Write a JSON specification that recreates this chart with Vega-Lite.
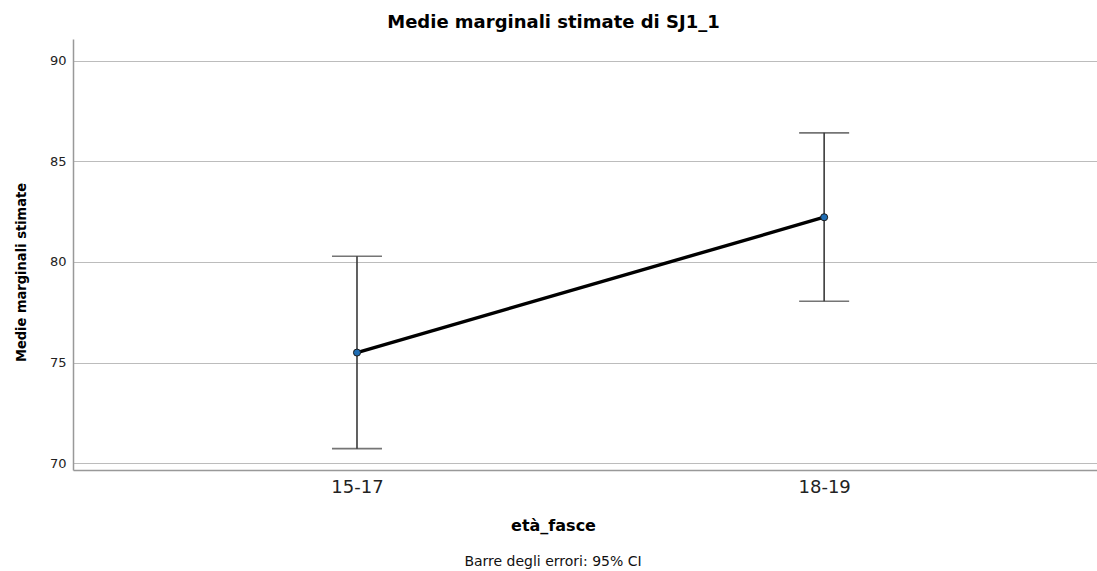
{
  "$schema": "https://vega.github.io/schema/vega-lite/v6.json",
  "width": 1024,
  "height": 431,
  "autosize": {"type": "none"},
  "padding": {"left": 73, "top": 39, "right": 0, "bottom": 101},
  "background": "white",
  "config": {"view": {"stroke": null}, "font": "DejaVu Sans"},
  "title": {"text": "Barre degli errori: 95% CI", "orient": "bottom", "anchor": "middle", "frame": "group", "font": "DejaVu Sans", "fontSize": 14, "fontWeight": "normal", "color": "#111111", "dx": -32, "offset": 22},
  "data": {"values": [
    {"eta": "15-17", "mean": 75.50, "lower": 70.73, "upper": 80.28},
    {"eta": "18-19", "mean": 82.22, "lower": 78.05, "upper": 86.41}
  ]},
  "resolve": {"axis": {"x": "independent"}},
  "layer": [
    {
      "mark": {"type": "rule", "color": "#3a3a3a", "strokeWidth": 1.6},
      "encoding": {
        "x": {"field": "eta", "type": "ordinal", "scale": {"type": "point", "padding": 0.596, "align": 0.51},
          "axis": {"orient": "bottom", "title": "età_fasce", "titleFont": "DejaVu Sans", "titleFontSize": 16, "titleFontWeight": "bold", "titleColor": "#000000", "titlePadding": 21, "titleX": 480,
            "labelFont": "DejaVu Sans", "labelFontSize": 18, "labelColor": "#222222", "labelAngle": 0, "labelPadding": 8, "ticks": false, "grid": false, "domainColor": "#999999", "domainWidth": 1.5}},
        "y": {"field": "lower", "type": "quantitative", "title": "Medie marginali stimate",
          "scale": {"domain": [69.67, 91.07], "nice": false, "zero": false},
          "axis": {"values": [70, 75, 80, 85, 90], "ticks": false, "labelFont": "DejaVu Sans", "labelFontSize": 13, "labelColor": "#222222", "labelPadding": 7,
            "grid": true, "gridColor": "#bcbcbc", "gridWidth": 1, "domainColor": "#999999", "domainWidth": 1.5,
            "titleFont": "DejaVu Sans Condensed, Roboto Condensed, Liberation Sans Narrow, DejaVu Sans", "titleFontSize": 14.5, "titleFontWeight": "bold", "titleColor": "#000000", "titlePadding": 21, "titleY": 233}},
        "y2": {"field": "upper"}
      }
    },
    {
      "mark": {"type": "tick", "orient": "horizontal", "color": "#3a3a3a", "size": 50, "thickness": 1.6},
      "encoding": {
        "x": {"field": "eta", "type": "ordinal", "axis": null},
        "y": {"field": "lower", "type": "quantitative", "title": "Medie marginali stimate"}
      }
    },
    {
      "mark": {"type": "tick", "orient": "horizontal", "color": "#3a3a3a", "size": 50, "thickness": 1.6},
      "encoding": {
        "x": {"field": "eta", "type": "ordinal", "axis": null},
        "y": {"field": "upper", "type": "quantitative", "title": "Medie marginali stimate"}
      }
    },
    {
      "mark": {"type": "line", "color": "#000000", "strokeWidth": 3.4},
      "encoding": {
        "x": {"field": "eta", "type": "ordinal",
          "axis": {"orient": "top", "title": "Medie marginali stimate di SJ1_1", "titleFont": "DejaVu Sans", "titleFontSize": 18, "titleFontWeight": "bold", "titleColor": "#000000", "titlePadding": 8, "titleX": 480,
            "labels": false, "ticks": false, "domain": false, "grid": false}},
        "y": {"field": "mean", "type": "quantitative", "title": "Medie marginali stimate"}
      }
    },
    {
      "mark": {"type": "point", "filled": true, "fill": "#1f6db3", "stroke": "#1a1a1a", "strokeWidth": 1, "size": 50, "opacity": 1},
      "encoding": {
        "x": {"field": "eta", "type": "ordinal", "axis": null},
        "y": {"field": "mean", "type": "quantitative", "title": "Medie marginali stimate"}
      }
    }
  ]
}
